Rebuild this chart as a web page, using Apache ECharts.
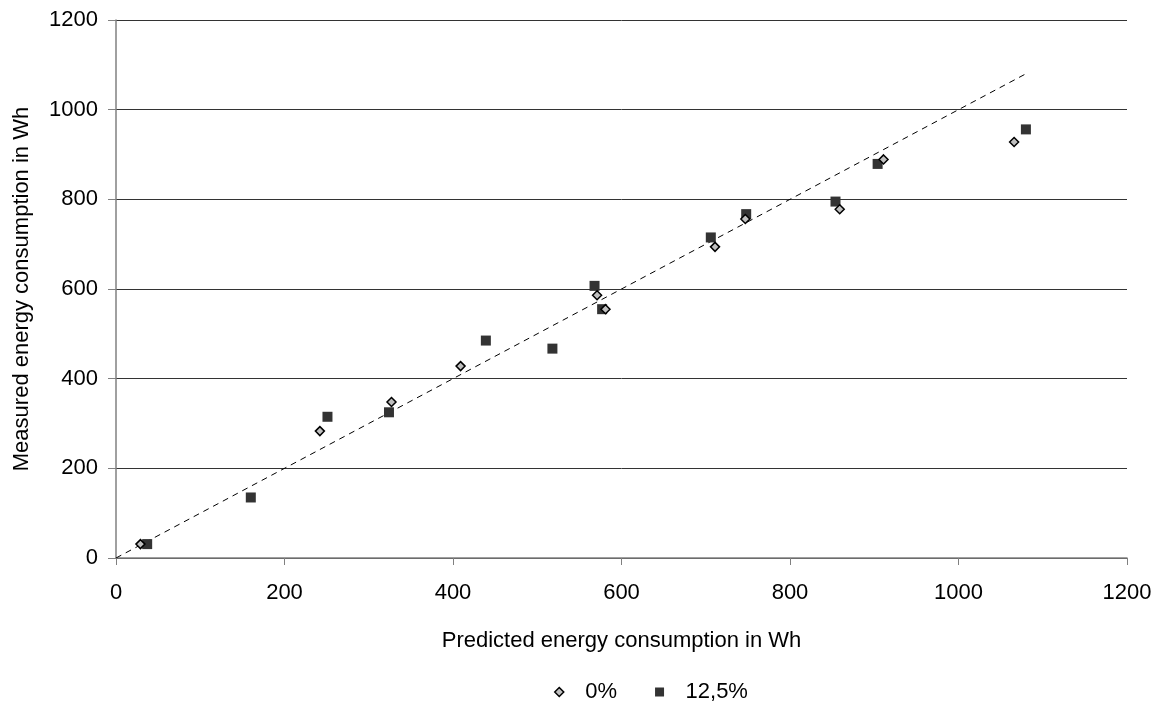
<!DOCTYPE html>
<html><head><meta charset="utf-8">
<script src="https://cdn.jsdelivr.net/npm/echarts@6/dist/echarts.min.js"></script>
<style>html,body{margin:0;padding:0;background:#fff}#c{width:1160px;height:704px}</style>
</head><body><div id="c"></div>
<script>
const series0Name = '0%';
const series0 = [[29,31],[242,283],[327,348],[409,428],[571,586],[581,555],[711,694],[747,756],[859,778],[911,889],[1066,928]];
const series1Name = '12,5%';
const series1 = [[37,31],[160,135],[251,315],[324,325],[439,485],[518,467],[568,607],[577,555],[706,715],[748,767],[854,795],[904,879],[1080,956]];
const refLine = [[0,0],[1080,1080]];
const xName = 'Predicted energy consumption in Wh';
const yName = 'Measured energy consumption in Wh';

const font = 'Liberation Sans, Arial, sans-serif';
const diamondPath = 'path://M0,-1L1,0L0,1L-1,0Z';
const chart = echarts.init(document.getElementById('c'));
chart.setOption({
  animation:false,
  backgroundColor:'#fff',
  grid:{left:116,right:33,top:20,bottom:146},
  legend:{
    top:676,left:549,itemGap:38,itemWidth:42,itemHeight:9,
    textStyle:{fontFamily:font,fontSize:22,color:'#000'},
    data:[{name:series0Name,icon:diamondPath,itemStyle:{color:'#c0c0c0',borderColor:'#000',borderWidth:1.5}},
          {name:series1Name,icon:'path://M0,0L1,0L1,1L0,1Z',itemStyle:{color:'#333',borderWidth:0}}]
  },
  xAxis:{
    type:'value',min:0,max:1200,interval:200,
    name:xName,nameLocation:'middle',nameGap:72,
    nameTextStyle:{fontFamily:font,fontSize:22,color:'#000'},
    axisLine:{show:true,lineStyle:{color:'#808080',width:1.5}},
    axisTick:{show:true,length:7,lineStyle:{color:'#808080'}},
    axisLabel:{fontFamily:font,fontSize:22,color:'#000',margin:24,formatter:v=>String(v)},
    splitLine:{show:false}
  },
  yAxis:{
    type:'value',min:0,max:1200,interval:200,
    name:yName,nameLocation:'middle',nameGap:83,
    nameTextStyle:{fontFamily:font,fontSize:22,color:'#000'},
    axisLine:{show:true,lineStyle:{color:'#808080',width:1.5}},
    axisTick:{show:true,length:8,lineStyle:{color:'#808080'}},
    axisLabel:{fontFamily:font,fontSize:22,color:'#000',margin:18,formatter:v=>String(v)},
    splitLine:{show:true,lineStyle:{color:'#333',width:1}}
  },
  series:[
    {type:'line',data:refLine,symbol:'none',silent:true,z:1,
     lineStyle:{color:'#000',width:1,type:[6,5]}},
    {name:series0Name,type:'scatter',data:series0,symbol:'diamond',symbolSize:9,z:3,
     itemStyle:{color:'#c0c0c0',borderColor:'#000',borderWidth:1.5,opacity:1}},
    {name:series1Name,type:'scatter',data:series1,symbol:'rect',symbolSize:10,z:2,
     itemStyle:{color:'#333',opacity:1}}
  ]
});
</script></body></html>
